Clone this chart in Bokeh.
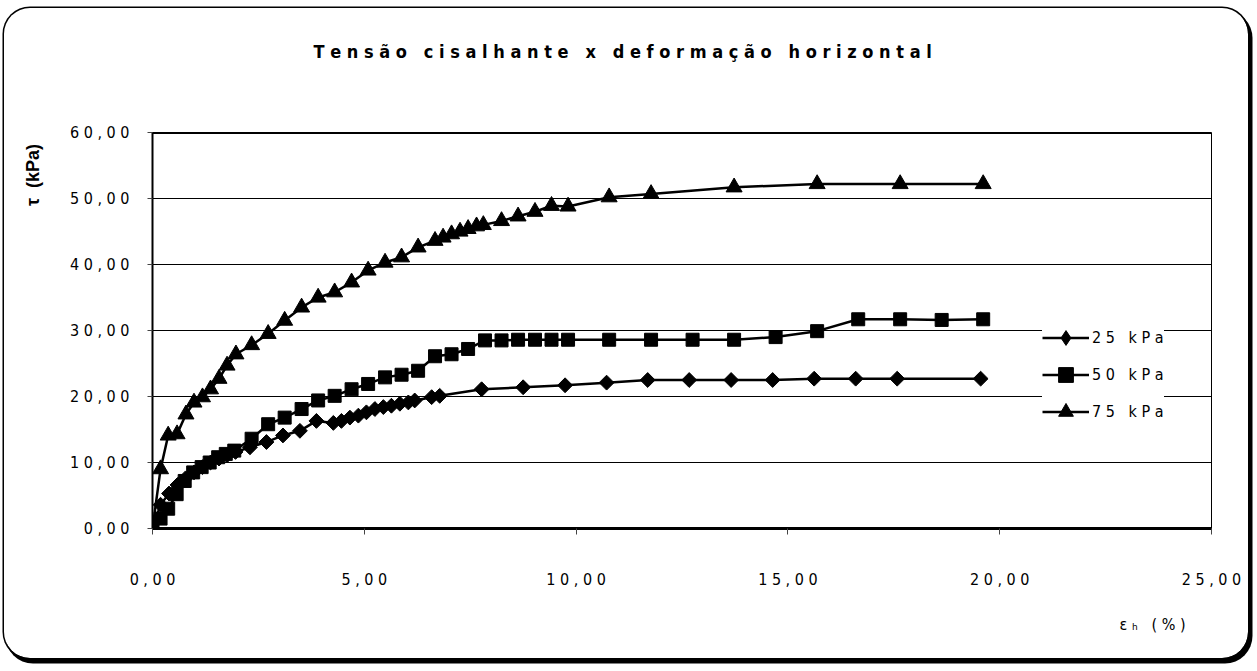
import math
from bokeh.plotting import figure
from bokeh.models import FixedTicker, Span, Legend, LegendItem, Title
from bokeh.embed import file_html
from bokeh.resources import INLINE

# ---------------- data ----------------
title_text = "Tensão cisalhante x deformação horizontal"
y_label_text = "τ  (kPa)"
x_label_text = "εₕ (%)"
series_names = ["25 kPa", "50 kPa", "75 kPa"]

x_ticks = [0, 5, 10, 15, 20, 25]
x_tick_labels = ["0,00", "5,00", "10,00", "15,00", "20,00", "25,00"]
y_ticks = [0, 10, 20, 30, 40, 50, 60]
y_tick_labels = ["0,00", "10,00", "20,00", "30,00", "40,00", "50,00", "60,00"]

x_25 = [0, 0.19, 0.39, 0.59, 0.78, 0.98, 1.18, 1.37, 1.57, 1.76, 1.96, 2.30, 2.69, 3.08,
        3.48, 3.87, 4.27, 4.46, 4.66, 4.86, 5.05, 5.25, 5.45, 5.64, 5.84, 6.04, 6.19, 6.59,
        6.78, 7.77, 8.75, 9.74, 10.72, 11.69, 12.67, 13.66, 14.64, 15.62, 16.60, 17.58, 19.55]
y_25 = [0, 3.6, 5.3, 6.6, 7.6, 8.5, 9.3, 10.0, 10.6, 11.1, 11.6, 12.3, 13.1, 14.1,
        14.8, 16.3, 16.0, 16.3, 16.8, 17.1, 17.6, 18.1, 18.4, 18.6, 18.9, 19.1, 19.4, 19.9,
        20.1, 21.1, 21.4, 21.7, 22.1, 22.5, 22.5, 22.5, 22.5, 22.7, 22.7, 22.7, 22.7]

x_50 = [0, 0.19, 0.37, 0.57, 0.76, 0.96, 1.16, 1.35, 1.55, 1.73, 1.93, 2.34, 2.73, 3.12,
        3.52, 3.91, 4.30, 4.70, 5.09, 5.49, 5.88, 6.27, 6.67, 7.06, 7.45, 7.85, 8.24, 8.63,
        9.03, 9.42, 9.81, 10.78, 11.77, 12.75, 13.73, 14.71, 15.69, 16.66, 17.65, 18.63, 19.61]
y_50 = [0, 1.5, 3.0, 5.2, 7.2, 8.5, 9.3, 10.0, 10.8, 11.3, 11.8, 13.6, 15.8, 16.8,
        18.1, 19.4, 20.1, 21.1, 21.9, 22.9, 23.3, 23.9, 26.1, 26.4, 27.2, 28.5, 28.5, 28.6,
        28.6, 28.6, 28.6, 28.6, 28.6, 28.6, 28.6, 29.0, 29.9, 31.7, 31.7, 31.6, 31.7]

x_75 = [0, 0.19, 0.37, 0.58, 0.79, 0.98, 1.18, 1.37, 1.57, 1.76, 1.97, 2.34, 2.73, 3.12,
        3.52, 3.91, 4.30, 4.70, 5.09, 5.49, 5.88, 6.27, 6.67, 6.86, 7.06, 7.26, 7.45, 7.65,
        7.81, 8.24, 8.63, 9.03, 9.42, 9.81, 10.78, 11.77, 13.73, 15.69, 17.65, 19.61]
y_75 = [0, 9.0, 14.1, 14.3, 17.3, 19.1, 19.9, 21.1, 22.7, 24.7, 26.4, 27.8, 29.5, 31.5,
        33.5, 35.0, 35.8, 37.3, 39.1, 40.3, 41.1, 42.6, 43.6, 44.1, 44.6, 45.0, 45.4, 45.8,
        46.0, 46.6, 47.3, 48.0, 48.9, 48.8, 50.2, 50.7, 51.7, 52.2, 52.2, 52.2]

# ---------------- helpers ----------------
NB = "\u00a0"
FONT = "'DejaVu Sans Condensed', 'Liberation Sans', sans-serif"


def spaced(s):
    return NB.join(list(s.replace(" ", NB)))


W, H = 1244, 650
ML, MR, MT, MB = 148, 37, 124, 129

p = figure(width=W, height=H, x_range=(0, 25), y_range=(0, 60),
           output_backend="svg", toolbar_location=None, title=None,
           min_border_left=ML, min_border_right=MR, min_border_top=MT, min_border_bottom=MB)
p.border_fill_color = None
p.background_fill_color = "white"
p.outline_line_color = "black"
p.outline_line_width = 1
p.styles = {"margin-left": "4px", "margin-top": "8px", "border-radius": "26px",
            "box-shadow": "0 0 0 1.5px #000, 3px 4px 0 1.5px #000"}

# spacer between frame and title, then the title itself
spacer = Title(text=NB, align="left", standoff=26, text_font=FONT,
               text_font_size="18px", text_color="white")
p.add_layout(spacer, "above")
main_title = Title(text=spaced(title_text), align="left", offset=161,
                   vertical_align="top", standoff=40,
                   text_font=FONT, text_font_size="18px", text_font_style="bold",
                   text_color="black")
p.add_layout(main_title, "above")

x_title = Title(text=spaced(x_label_text), align="right", offset=26,
                vertical_align="top", standoff=46,
                text_font=FONT, text_font_size="16px", text_font_style="normal",
                text_color="black")
p.add_layout(x_title, "below")

# axes
p.xaxis.ticker = FixedTicker(ticks=x_ticks)
p.yaxis.ticker = FixedTicker(ticks=y_ticks)
p.xaxis.major_label_overrides = {t: spaced(l) for t, l in zip(x_ticks, x_tick_labels)}
p.yaxis.major_label_overrides = {t: spaced(l) for t, l in zip(y_ticks, y_tick_labels)}
for ax in (p.xaxis, p.yaxis):
    ax.minor_tick_line_color = None
    ax.major_tick_in = 0
    ax.major_label_text_font = FONT
    ax.major_label_text_font_size = "16px"
    ax.major_label_text_color = "black"
    ax.axis_line_color = "black"
    ax.major_tick_line_color = "#444444"
p.xaxis.axis_line_width = 3
p.xaxis.major_tick_out = 6
p.xaxis.major_label_standoff = 35
p.yaxis.axis_line_width = 2
p.yaxis.major_tick_out = 5
p.yaxis.major_label_standoff = 18

# y label: placed at the top end of the axis; trailing spaces push it down
p.yaxis.axis_label = y_label_text.replace(" ", NB) + NB * 17
p.yaxis.axis_label_text_font = "'Liberation Sans', sans-serif"
p.yaxis.axis_label_text_font_size = "18px"
p.yaxis.axis_label_text_font_style = "bold"
p.yaxis.axis_label_text_color = "black"
p.yaxis.axis_label_standoff = 24
if "axis_label_align" in p.yaxis[0].properties():
    try:
        p.yaxis.axis_label_align = "end"
    except Exception:
        p.yaxis.axis_label_align = "right"

p.xgrid.visible = False
p.ygrid.grid_line_color = "black"
p.ygrid.grid_line_width = 1
p.add_layout(Span(location=60, dimension="width", line_color="black", line_width=3))

# series
r25l = p.line(x_25, y_25, line_color="black", line_width=2.5)
r25m = p.scatter(x_25, y_25, marker="square", angle=math.pi / 4, size=10.5,
                 fill_color="black", line_color="black")
r25k = p.scatter(x=[float("nan")], y=[float("nan")], marker="diamond",
                 fill_color="black", line_color="black")
r50l = p.line(x_50, y_50, line_color="black", line_width=2.5)
r50m = p.scatter(x_50, y_50, marker="square", size=13, fill_color="black", line_color="black")
r75l = p.line(x_75, y_75, line_color="black", line_width=2.5)
r75m = p.scatter(x_75, y_75, marker="triangle", size=16, fill_color="black", line_color="black")

legend = Legend(items=[
    LegendItem(label=spaced(series_names[0]), renderers=[r25l, r25k]),
    LegendItem(label=spaced(series_names[1]), renderers=[r50l, r50m]),
    LegendItem(label=spaced(series_names[2]), renderers=[r75l, r75m]),
], location=(890, 98))
legend.glyph_width = 47
legend.glyph_height = 37
legend.label_standoff = 3
legend.spacing = 0
legend.padding = 10
legend.margin = 0
legend.border_line_color = None
legend.background_fill_color = "white"
legend.background_fill_alpha = 1
legend.label_text_font = FONT
legend.label_text_font_size = "16px"
legend.label_text_color = "black"
p.add_layout(legend, "center")

open("out.html", "w").write(file_html(p, INLINE))
